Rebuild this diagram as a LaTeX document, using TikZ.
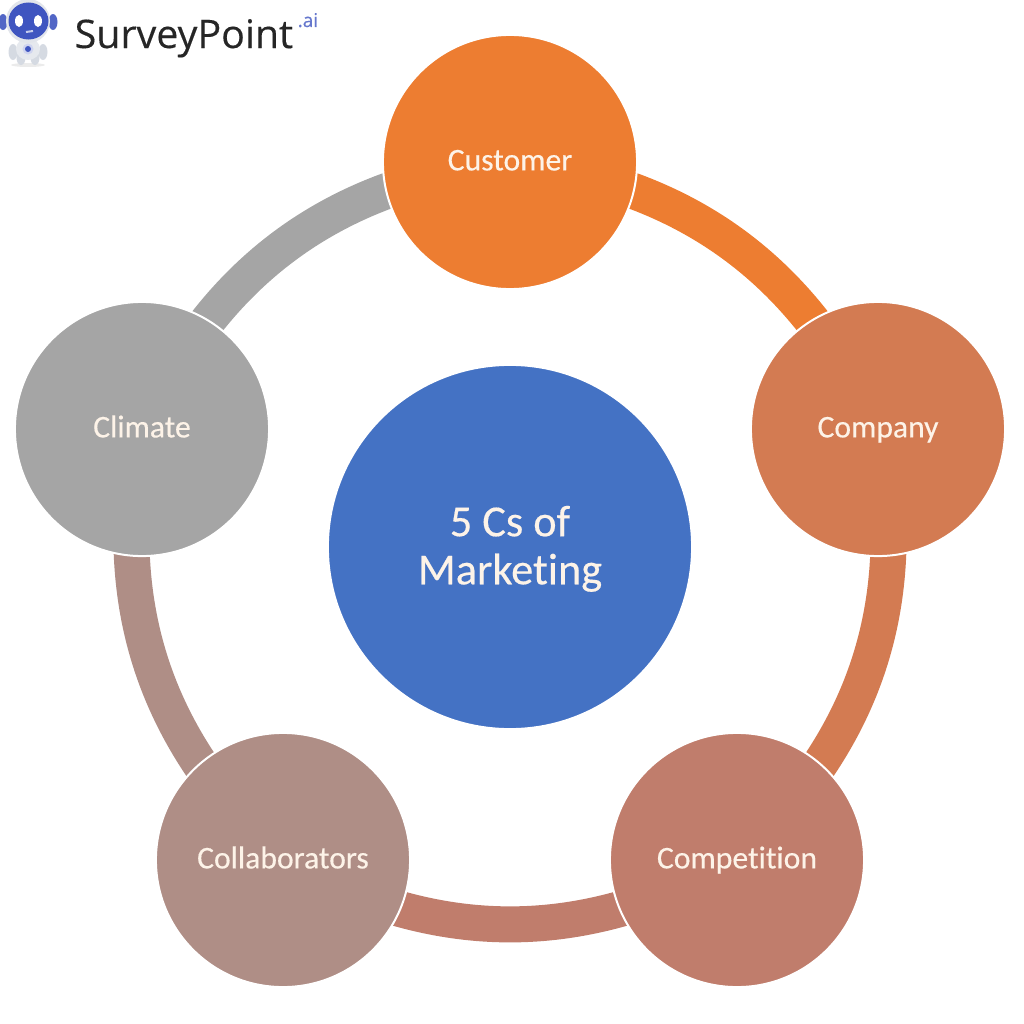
\documentclass[tikz,border=0pt]{standalone}
\usepackage{fontspec}
\usetikzlibrary{backgrounds}
\setmainfont[RawFeature=-liga, FakeBold=.35]{Carlito}
\newfontfamily\logofont[FakeBold=.3]{Open Sans}
\definecolor{cCustomer}{HTML}{ED7D31}
\definecolor{cCompany}{HTML}{D37B52}
\definecolor{cCompetition}{HTML}{C07D6C}
\definecolor{cCollaborators}{HTML}{AF8E86}
\definecolor{cClimate}{HTML}{A5A5A5}
\definecolor{cMiddle}{HTML}{4472C4}
\definecolor{cLabel}{HTML}{FDF3E8}
\definecolor{cRobot}{HTML}{3F55C0}
\definecolor{cSuit}{HTML}{D5DAE2}
\tikzset{
  ball/.style={circle, draw=white, line width=.2mm, inner sep=0pt, minimum size=2.54cm,
    text=cLabel, font=\fontsize{9}{10}\selectfont, text height=1ex, text depth=0pt},
  ringpart/.style={line width=.36cm, bend left=29}
}
\begin{document}
\begin{tikzpicture}[x=.01cm, y=-.01cm]
  \useasboundingbox (0,0) rectangle (1024,1024);

  %Middle
  \node[ball, minimum size=3.64cm, fill=cMiddle, font=\fontsize{12.6}{13.66}\selectfont, align=center, text height=.83cm, text depth=.085cm] (middle) at (510,547) {5 Cs of\\Marketing};

  %Outer circles
  \node[ball, fill=cCustomer] (customer) at (510,162) {Customer};
  \node[ball, fill=cCompany] (company) at (878,429) {Company};
  \node[ball, fill=cCompetition] (competition) at (737,860) {Competition};
  \node[ball, fill=cCollaborators] (collaborators) at (283,860) {Collaborators};
  \node[ball, fill=cClimate] (climate) at (142,429) {Climate};

  %Ring
  \begin{scope}[on background layer]
    \foreach \a/\b/\c in {customer/company/cCustomer, company/competition/cCompany, competition/collaborators/cCompetition, collaborators/climate/cCollaborators, climate/customer/cClimate}
      \draw[ringpart, draw=\c] (\a.center) to (\b.center);
  \end{scope}

  %Logo text
  \node[anchor=base west, inner sep=0pt, font=\logofont\fontsize{11.2}{12}\selectfont, text=black!85] (brand) at (74,48) {SurveyPoint};
  \node[anchor=base west, inner sep=0pt, font=\logofont\fontsize{5.4}{6}\selectfont, text=cRobot!80] (brandai) at (297,27) {.ai};

  %Robot
  \fill[black!8] (28,65) ellipse (17 and 2);
  \foreach \s in {-1,1} {
    \fill[cSuit] (28+\s*15,52) ellipse (4.5 and 8);
    \fill[cSuit] (28+\s*7,58) ellipse (4.5 and 7);
    \fill[cRobot!90] (28+\s*25,22) ellipse (4.5 and 8);
  }
  \fill[cSuit!60] (28,49) ellipse (12 and 11);
  \fill[cRobot!25] (28,49) circle (5.5);
  \fill[cRobot] (28,49) circle (3);
  \fill[cSuit!70] (28,21) circle (22);
  \fill[cRobot] (28.5,21) ellipse (20 and 18.5);
  \foreach \x in {19,38}
    \fill[white] (\x,21) ellipse (4 and 6);
  \draw[white!70!cRobot, line width=.2mm] (26,32) -- (33,31);
\end{tikzpicture}
\end{document}
